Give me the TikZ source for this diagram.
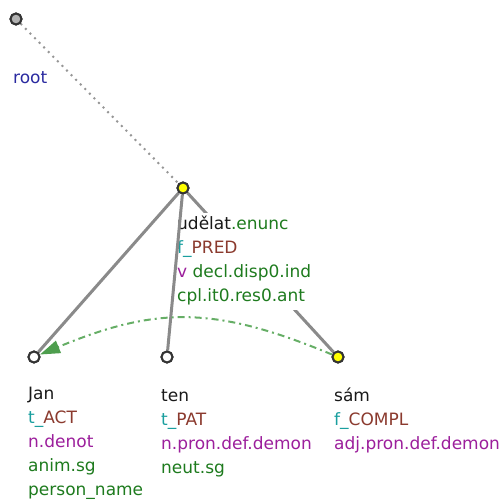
\documentclass[tikz,border=0pt]{standalone}
\usepackage{fontspec}
\setmainfont{DejaVu Sans}
\usetikzlibrary{arrows.meta}
\definecolor{cblue}{HTML}{2A2AA0}
\definecolor{cgreen}{HTML}{1E7B1E}
\definecolor{cteal}{HTML}{1A9F9F}
\definecolor{cbrown}{HTML}{8B3A2E}
\definecolor{cpurple}{HTML}{9C1F9C}
\definecolor{cedge}{HTML}{8A8A8A}
\definecolor{ccoref}{HTML}{66AE66}
\definecolor{ccorefhead}{HTML}{4E9E4E}
\definecolor{cyel}{HTML}{FFFF00}
\newcommand{\fl}{\rule{0pt}{16pt}}
\begin{document}
\begin{tikzpicture}[x=1pt,y=-1pt,
  tnode/.style={circle,draw=black!80,line width=2pt,minimum size=11pt,inner sep=0pt},
  edgeline/.style={draw=cedge,line width=3pt},
  rootline/.style={draw=cedge!90,line width=2pt,dash pattern=on 2pt off 4.5pt},
  lab/.style={anchor=north west,align=left,inner sep=0pt,fill=white,
    font=\fontsize{17}{24}\selectfont},
  coref/.style={draw=ccoref,line width=2pt,dash pattern=on 7pt off 4pt on 2pt off 4pt,
    -{Triangle[length=20pt,width=13pt,color=ccorefhead]}}
]
\useasboundingbox (0,0) rectangle (499,503);
% nodes (circles)
\node[tnode,fill=black!30] (root) at (16,19) {};
\node[tnode,fill=cyel] (udelat) at (183,188) {};
\node[tnode,fill=white] (jan) at (34,357) {};
\node[tnode,fill=white] (ten) at (167,357) {};
\node[tnode,fill=cyel] (sam) at (338,357) {};
% edges behind labels
\draw[rootline] (root) -- (udelat);
\draw[edgeline] (udelat) -- (sam);
\draw[edgeline] (udelat) -- (jan);
% labels
\node[lab] (rootlab) at (13,67) {\fl\textcolor{cblue}{root}};
\node[lab] (udelatlab) at (177,213) {\fl\textcolor{black!90}{udělat}\textcolor{cgreen}{.enunc}\\
  \textcolor{cteal}{f\_}\textcolor{cbrown}{PRED}\\
  \textcolor{cpurple}{v} \textcolor{cgreen}{decl.disp0.ind}\\
  \textcolor{cgreen}{cpl.it0.res0.ant}\rule[-9pt]{0pt}{0pt}};
\node[lab] (janlab) at (28,383) {\fl\textcolor{black!90}{Jan}\\
  \textcolor{cteal}{t\_}\textcolor{cbrown}{ACT}\\
  \textcolor{cpurple}{n.denot}\\
  \textcolor{cgreen}{anim.sg}\\
  \textcolor{cgreen}{person\_name}};
\node[lab] (tenlab) at (161,385) {\fl\textcolor{black!90}{ten}\\
  \textcolor{cteal}{t\_}\textcolor{cbrown}{PAT}\\
  \textcolor{cpurple}{n.pron.def.demon}\\
  \textcolor{cgreen}{neut.sg}};
\node[lab] (samlab) at (334,385) {\fl\textcolor{black!90}{sám}\\
  \textcolor{cteal}{f\_}\textcolor{cbrown}{COMPL}\\
  \textcolor{cpurple}{adj.pron.def.demon}};
% edge on top of labels
\draw[edgeline] (udelat) -- (ten);
% coreference arrow
\draw[coref] (sam) .. controls (215,306) and (157,306) .. (jan);
% redraw circles on top
\node[tnode,fill=black!30] at (root) {};
\node[tnode,fill=cyel] at (udelat) {};
\node[tnode,fill=white] at (jan) {};
\node[tnode,fill=white] at (ten) {};
\node[tnode,fill=cyel] at (sam) {};
\end{tikzpicture}
\end{document}
